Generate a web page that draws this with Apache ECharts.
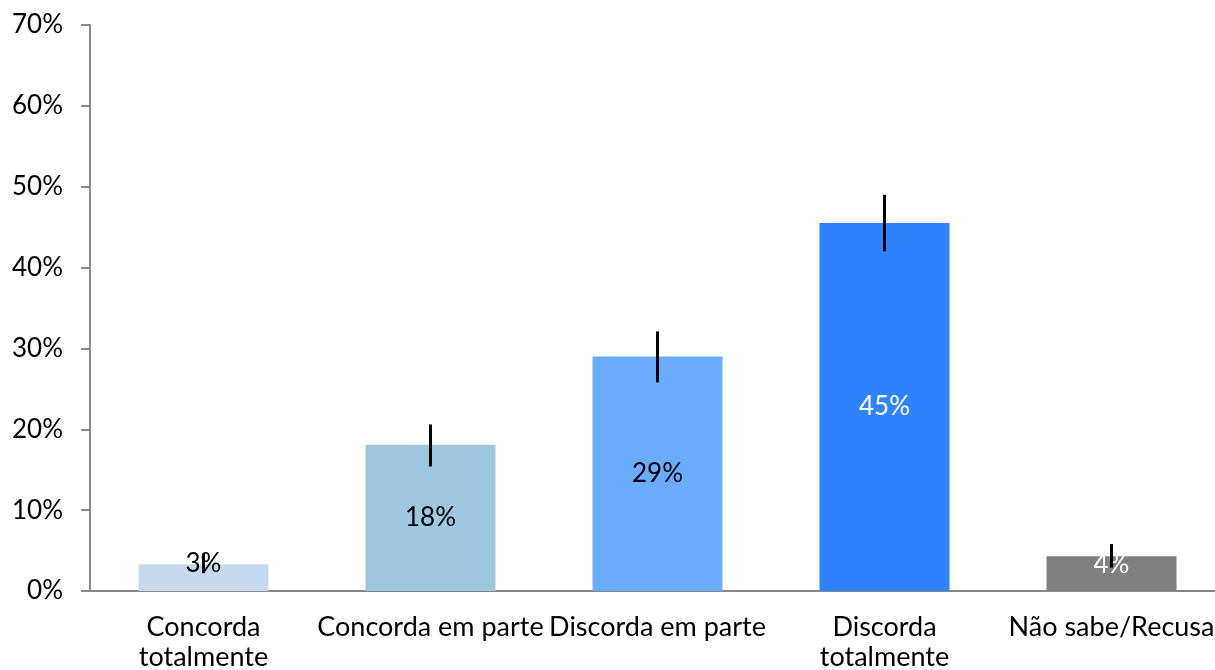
<!DOCTYPE html>
<html>
<head>
<meta charset="utf-8">
<script src="https://cdn.jsdelivr.net/npm/echarts@6/dist/echarts.min.js"></script>
<style>html,body{margin:0;padding:0;background:#fff}#c{width:1215px;height:670px}</style>
</head>
<body>
<div id="c"></div>
<script>
const categories = ['Concorda\ntotalmente', 'Concorda em parte', 'Discorda em parte', 'Discorda\ntotalmente', 'Não sabe/Recusa'];
const values = [3.3, 18.1, 29.0, 45.5, 4.3];
const labels = ['3%', '18%', '29%', '45%', '4%'];
const errLow = [2.2, 15.4, 25.8, 42.0, 2.9];
const errHigh = [4.6, 20.6, 32.1, 49.0, 5.8];
const barColors = ['#C6D9EF', '#9DC8E0', '#6AACFF', '#3083FF', '#808080'];
const labelColors = ['#000', '#000', '#000', '#fff', '#fff'];
const labelOffsets = [[0, -14], [0, 0], [0, 0], [0, 0], [0, -9]];
const yTicks = [0, 10, 20, 30, 40, 50, 60, 70];

const font = 'Lato, "Open Sans", sans-serif';
const chart = echarts.init(document.getElementById('c'));
chart.setOption({
  animation: false,
  grid: { left: 90, top: 25, width: 1135, height: 566, outerBoundsMode: 'none', containLabel: false },
  xAxis: {
    type: 'category',
    data: categories,
    axisLine: { lineStyle: { color: '#888', width: 2 } },
    axisTick: { show: false },
    axisLabel: { interval: 0, color: '#000', fontSize: 27, fontFamily: font, lineHeight: 30, margin: 21 }
  },
  yAxis: {
    type: 'value',
    min: 0, max: 70, interval: 10,
    splitLine: { show: false },
    axisLine: { show: true, lineStyle: { color: '#888', width: 2 } },
    axisTick: { show: true, length: 9, lineStyle: { color: '#888', width: 2 } },
    axisLabel: { color: '#000', fontSize: 26, fontFamily: font, margin: 27,
      formatter: v => yTicks.includes(v) ? v + '%' : '' }
  },
  series: [
    {
      type: 'bar',
      barWidth: 130,
      data: values.map((v, i) => ({
        value: v,
        itemStyle: { color: barColors[i] },
        label: { show: true, position: 'inside', offset: labelOffsets[i], formatter: labels[i], color: labelColors[i], fontSize: 26, fontFamily: font }
      })),
      z: 2
    },
    {
      type: 'custom',
      z: 3,
      data: errLow.map((l, i) => [i, l, errHigh[i]]),
      renderItem: function (params, api) {
        const lo = api.coord([api.value(0), api.value(1)]);
        const hi = api.coord([api.value(0), api.value(2)]);
        return {
          type: 'line',
          shape: { x1: lo[0], y1: lo[1], x2: hi[0], y2: hi[1] },
          style: { stroke: '#000', lineWidth: 3 }
        };
      }
    }
  ]
});
</script>
</body>
</html>
